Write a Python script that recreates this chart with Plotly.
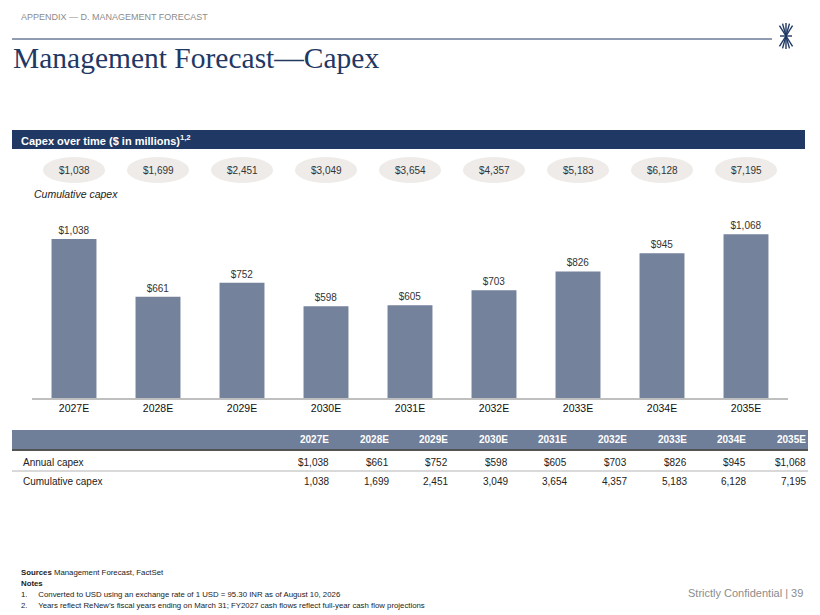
import math
import plotly.graph_objects as go

years = ["2027E", "2028E", "2029E", "2030E", "2031E", "2032E", "2033E", "2034E", "2035E"]
annual_capex = [1038, 661, 752, 598, 605, 703, 826, 945, 1068]
cumulative_capex = [1038, 1699, 2451, 3049, 3654, 4357, 5183, 6128, 7195]

# page body has an 8px margin, so the figure is a bit smaller than the window
OFF = 8
W, H = 820 - OFF, 615 - OFF
NAVY = "#1F3864"
BAR = "#75829C"
FONT = "Liberation Sans, Arial, sans-serif"


def px(x):
    return (x - OFF) / W


def py(y):
    return 1 - (y - OFF) / H


def note(x, y, text, size, color="#222222", anchor="left", family=FONT, xref="paper"):
    return dict(x=x, y=y, xref=xref, yref="paper", text=text, showarrow=False,
                xanchor=anchor, yanchor="middle", font=dict(size=size, color=color, family=family))


fig = go.Figure()

fig.add_trace(go.Bar(
    x=years, y=annual_capex,
    marker=dict(color=BAR, line=dict(width=0)),
    width=0.535,
    texttemplate="$%{y:,}", textposition="outside",
    textfont=dict(size=10, color="#333333", family=FONT),
    cliponaxis=False, hoverinfo="skip",
))

shapes = []
annotations = []

# top header
annotations.append(note(px(19), py(17), "APPENDIX — D. MANAGEMENT FORECAST", 9, "#8C8C8C"))
shapes.append(dict(type="line", xref="paper", yref="paper", x0=px(12), x1=px(772), y0=py(39), y1=py(39),
                   line=dict(color=NAVY, width=1)))
annotations.append(note(px(11), py(58), "Management Forecast—Capex", 29.5, NAVY,
                        family="Liberation Serif, Times New Roman, serif"))

# logo
cx, cy = 786, 36
for k in range(5):
    a = (k - 2) * 0.32
    for s in (1, -1):
        shapes.append(dict(type="line", xref="paper", yref="paper",
                           x0=px(cx), y0=py(cy),
                           x1=px(cx + 11 * math.sin(a)), y1=py(cy - s * 13 * math.cos(a)),
                           line=dict(color=NAVY, width=1.4)))
shapes.append(dict(type="line", xref="paper", yref="paper", x0=px(cx - 6), x1=px(cx + 6),
                   y0=py(cy), y1=py(cy), line=dict(color=NAVY, width=1.4)))

# section band
shapes.append(dict(type="rect", xref="paper", yref="paper", x0=px(12), x1=px(805), y0=py(130), y1=py(149),
                   fillcolor=NAVY, line=dict(width=0), layer="below"))
annotations.append(note(px(19), py(140), "<b>Capex over time ($ in millions)<sup>1,2</sup></b>", 11, "white"))

# cumulative bubbles
for i, (yr, c) in enumerate(zip(years, cumulative_capex)):
    shapes.append(dict(type="circle", xref="x", yref="paper", x0=i - 0.37, x1=i + 0.37,
                       y0=py(183), y1=py(157), fillcolor="#EEEBE8", line=dict(width=0)))
    annotations.append(note(yr, py(170), f"${c:,}", 10, "#333333", anchor="center", xref="x"))
annotations.append(note(px(32), py(194), "<i>Cumulative capex</i>", 10.5, "#222222"))

# table
shapes.append(dict(type="rect", xref="paper", yref="paper", x0=px(12), x1=px(808), y0=py(449), y1=py(430),
                   fillcolor="#6F7E99", line=dict(width=0)))
shapes.append(dict(type="line", xref="paper", yref="paper", x0=px(12), x1=px(808), y0=py(450), y1=py(450),
                   line=dict(color="#1A1A1A", width=1.5)))
shapes.append(dict(type="line", xref="paper", yref="paper", x0=px(12), x1=px(808), y0=py(471), y1=py(471),
                   line=dict(color="#D9D9D9", width=2)))
col_right = [331 + 59.6 * k for k in range(9)]
for k, yr in enumerate(years):
    annotations.append(note(px(col_right[k]), py(439), f"<b>{yr}</b>", 10, "white", anchor="right"))
    annotations.append(note(px(col_right[k]), py(462), f"${annual_capex[k]:,}", 10, anchor="right"))
    annotations.append(note(px(col_right[k]), py(481), f"{cumulative_capex[k]:,}", 10, anchor="right"))
annotations.append(note(px(21), py(462), "Annual capex", 10))
annotations.append(note(px(21), py(481), "Cumulative capex", 10))

# footer
foot = [
    ("<b>Sources</b> Management Forecast, FactSet", 572),
    ("<b>Notes</b>", 583),
    ("1.     Converted to USD using an exchange rate of 1 USD = 95.30 INR as of August 10, 2026", 594),
    ("2.     Years reflect ReNew’s fiscal years ending on March 31; FY2027 cash flows reflect full-year cash flow projections", 605),
]
for t, yy in foot:
    annotations.append(note(px(19), py(yy), t, 7.8))
annotations.append(note(px(805), py(593), "Strictly Confidential | 39", 11, "#8C8C8C", anchor="right"))

fig.update_layout(
    width=W, height=H,
    margin=dict(l=0, r=0, t=0, b=0),
    paper_bgcolor="white", plot_bgcolor="white",
    showlegend=False,
    xaxis=dict(domain=[px(32), px(788)], showgrid=False, showline=True, linecolor="#BFBFBF", linewidth=1.5,
               ticks="", tickfont=dict(size=10.5, color="#111111", family=FONT), fixedrange=True),
    yaxis=dict(domain=[py(398), py(210)], range=[0, 1227], visible=False, fixedrange=True),
    shapes=shapes,
    annotations=annotations,
)

fig.write_html("out.html")
